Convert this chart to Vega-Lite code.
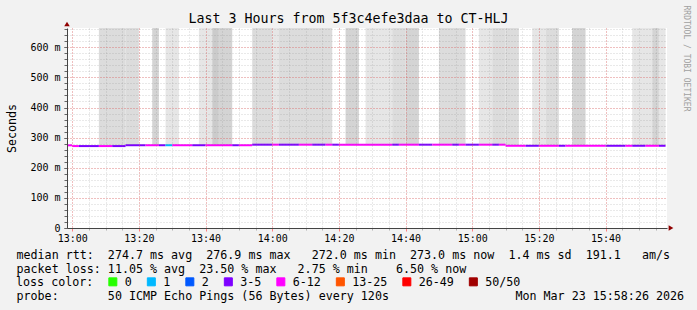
{
  "$schema": "https://vega.github.io/schema/vega-lite/v6.json",
  "width": 600,
  "height": 200,
  "autosize": {"type": "none"},
  "padding": {"left": 67, "top": 28, "right": 30, "bottom": 82},
  "background": "#f2f2f2",
  "title": {
    "text": "Last 3 Hours from 5f3c4efe3daa to CT-HLJ",
    "font": "DejaVu Sans Mono",
    "fontSize": 13.3,
    "fontWeight": "normal",
    "color": "#000000",
    "anchor": "middle",
    "frame": "group",
    "dx": -18.5,
    "dy": 35,
    "offset": 4,
    "baseline": "alphabetic"
  },
  "config": {
    "view": {"fill": "#ffffff", "stroke": null},
    "font": "DejaVu Sans Mono",
    "axis": {
      "labelFont": "DejaVu Sans Mono",
      "labelFontSize": 10,
      "labelColor": "#000000",
      "titleFont": "DejaVu Sans Mono",
      "titleFontSize": 11.68,
      "titleFontWeight": "normal",
      "titleColor": "#000000",
      "titleLimit": 1000
    }
  },
  "resolve": {"axis": {"x": "independent", "y": "independent"}},
  "layer": [
    {
      "data": {
        "values": [
          {"t0": "2026-03-23T13:08", "t1": "2026-03-23T13:16", "lo": 0.272, "hi": 0.7, "shade": "mid"},
          {"t0": "2026-03-23T13:16", "t1": "2026-03-23T13:20", "lo": 0.2748, "hi": 0.7, "shade": "mid"},
          {"t0": "2026-03-23T13:24", "t1": "2026-03-23T13:26", "lo": 0.2748, "hi": 0.7, "shade": "dark"},
          {"t0": "2026-03-23T13:28", "t1": "2026-03-23T13:32", "lo": 0.2748, "hi": 0.7, "shade": "light"},
          {"t0": "2026-03-23T13:38", "t1": "2026-03-23T13:42", "lo": 0.2748, "hi": 0.7, "shade": "light"},
          {"t0": "2026-03-23T13:42", "t1": "2026-03-23T13:44", "lo": 0.2748, "hi": 0.7, "shade": "darker"},
          {"t0": "2026-03-23T13:44", "t1": "2026-03-23T13:48", "lo": 0.2748, "hi": 0.7, "shade": "dark"},
          {"t0": "2026-03-23T13:54", "t1": "2026-03-23T14:00", "lo": 0.2766, "hi": 0.7, "shade": "mid"},
          {"t0": "2026-03-23T14:00", "t1": "2026-03-23T14:02", "lo": 0.2766, "hi": 0.7, "shade": "light"},
          {"t0": "2026-03-23T14:02", "t1": "2026-03-23T14:18", "lo": 0.2766, "hi": 0.7, "shade": "mid"},
          {"t0": "2026-03-23T14:22", "t1": "2026-03-23T14:26", "lo": 0.2766, "hi": 0.7, "shade": "dark"},
          {"t0": "2026-03-23T14:28", "t1": "2026-03-23T14:36", "lo": 0.2766, "hi": 0.7, "shade": "light"},
          {"t0": "2026-03-23T14:36", "t1": "2026-03-23T14:40", "lo": 0.2766, "hi": 0.7, "shade": "mid"},
          {"t0": "2026-03-23T14:40", "t1": "2026-03-23T14:44", "lo": 0.2766, "hi": 0.7, "shade": "dark"},
          {"t0": "2026-03-23T14:50", "t1": "2026-03-23T14:58", "lo": 0.2766, "hi": 0.7, "shade": "mid"},
          {"t0": "2026-03-23T15:02", "t1": "2026-03-23T15:06", "lo": 0.2766, "hi": 0.7, "shade": "light"},
          {"t0": "2026-03-23T15:06", "t1": "2026-03-23T15:10", "lo": 0.2766, "hi": 0.7, "shade": "mid"},
          {"t0": "2026-03-23T15:10", "t1": "2026-03-23T15:14", "lo": 0.273, "hi": 0.7, "shade": "mid"},
          {"t0": "2026-03-23T15:18", "t1": "2026-03-23T15:22", "lo": 0.273, "hi": 0.7, "shade": "light"},
          {"t0": "2026-03-23T15:22", "t1": "2026-03-23T15:26", "lo": 0.273, "hi": 0.7, "shade": "mid"},
          {"t0": "2026-03-23T15:30", "t1": "2026-03-23T15:34", "lo": 0.273, "hi": 0.7, "shade": "dark"},
          {"t0": "2026-03-23T15:48", "t1": "2026-03-23T15:54", "lo": 0.273, "hi": 0.7, "shade": "light"},
          {"t0": "2026-03-23T15:54", "t1": "2026-03-23T15:56", "lo": 0.273, "hi": 0.7, "shade": "dark"},
          {"t0": "2026-03-23T15:56", "t1": "2026-03-23T15:58", "lo": 0.273, "hi": 0.7, "shade": "light"}
        ]
      },
      "mark": {"type": "rect", "clip": true},
      "encoding": {
        "x": {
          "field": "t0", "type": "temporal",
          "scale": {"domain": [{"year": 2026, "month": 3, "date": 23, "hours": 12, "minutes": 58, "seconds": 26}, {"year": 2026, "month": 3, "date": 23, "hours": 15, "minutes": 58, "seconds": 26}]},
          "axis": {
            "orient": "bottom", "grid": true, "gridColor": "#808080", "gridOpacity": 0.35, "gridDash": [1, 2],
            "values": [
              {"year": 2026, "month": 3, "date": 23, "hours": 13, "minutes": 0},
              {"year": 2026, "month": 3, "date": 23, "hours": 13, "minutes": 5},
              {"year": 2026, "month": 3, "date": 23, "hours": 13, "minutes": 10},
              {"year": 2026, "month": 3, "date": 23, "hours": 13, "minutes": 15},
              {"year": 2026, "month": 3, "date": 23, "hours": 13, "minutes": 20},
              {"year": 2026, "month": 3, "date": 23, "hours": 13, "minutes": 25},
              {"year": 2026, "month": 3, "date": 23, "hours": 13, "minutes": 30},
              {"year": 2026, "month": 3, "date": 23, "hours": 13, "minutes": 35},
              {"year": 2026, "month": 3, "date": 23, "hours": 13, "minutes": 40},
              {"year": 2026, "month": 3, "date": 23, "hours": 13, "minutes": 45},
              {"year": 2026, "month": 3, "date": 23, "hours": 13, "minutes": 50},
              {"year": 2026, "month": 3, "date": 23, "hours": 13, "minutes": 55},
              {"year": 2026, "month": 3, "date": 23, "hours": 14, "minutes": 0},
              {"year": 2026, "month": 3, "date": 23, "hours": 14, "minutes": 5},
              {"year": 2026, "month": 3, "date": 23, "hours": 14, "minutes": 10},
              {"year": 2026, "month": 3, "date": 23, "hours": 14, "minutes": 15},
              {"year": 2026, "month": 3, "date": 23, "hours": 14, "minutes": 20},
              {"year": 2026, "month": 3, "date": 23, "hours": 14, "minutes": 25},
              {"year": 2026, "month": 3, "date": 23, "hours": 14, "minutes": 30},
              {"year": 2026, "month": 3, "date": 23, "hours": 14, "minutes": 35},
              {"year": 2026, "month": 3, "date": 23, "hours": 14, "minutes": 40},
              {"year": 2026, "month": 3, "date": 23, "hours": 14, "minutes": 45},
              {"year": 2026, "month": 3, "date": 23, "hours": 14, "minutes": 50},
              {"year": 2026, "month": 3, "date": 23, "hours": 14, "minutes": 55},
              {"year": 2026, "month": 3, "date": 23, "hours": 15, "minutes": 0},
              {"year": 2026, "month": 3, "date": 23, "hours": 15, "minutes": 5},
              {"year": 2026, "month": 3, "date": 23, "hours": 15, "minutes": 10},
              {"year": 2026, "month": 3, "date": 23, "hours": 15, "minutes": 15},
              {"year": 2026, "month": 3, "date": 23, "hours": 15, "minutes": 20},
              {"year": 2026, "month": 3, "date": 23, "hours": 15, "minutes": 25},
              {"year": 2026, "month": 3, "date": 23, "hours": 15, "minutes": 30},
              {"year": 2026, "month": 3, "date": 23, "hours": 15, "minutes": 35},
              {"year": 2026, "month": 3, "date": 23, "hours": 15, "minutes": 40},
              {"year": 2026, "month": 3, "date": 23, "hours": 15, "minutes": 45},
              {"year": 2026, "month": 3, "date": 23, "hours": 15, "minutes": 50},
              {"year": 2026, "month": 3, "date": 23, "hours": 15, "minutes": 55}
            ],
            "labels": false, "ticks": true, "tickSize": 2, "tickColor": "#b0b0b0", "domain": false, "zindex": 1,
            "title": "probe:\u00a0\u00a0\u00a0\u00a0\u00a0\u00a0\u00a050 ICMP Echo Pings (56 Bytes) every 120s\u00a0\u00a0\u00a0\u00a0\u00a0\u00a0\u00a0\u00a0\u00a0\u00a0\u00a0\u00a0\u00a0\u00a0\u00a0\u00a0\u00a0\u00a0Mon Mar 23 15:58:26 2026",
            "titleX": -51, "titleY": 62, "titleAlign": "left", "titleBaseline": "top", "titleAngle": 0
          }
        },
        "x2": {"field": "t1"},
        "y": {
          "field": "lo", "type": "quantitative",
          "scale": {"domain": [0, 0.664], "nice": false, "zero": false},
          "axis": {
            "orient": "left", "grid": true, "gridColor": "#808080", "gridOpacity": 0.35, "gridDash": [1, 2],
            "values": [0, 0.02, 0.04, 0.06, 0.08, 0.1, 0.12, 0.14, 0.16, 0.18, 0.2, 0.22, 0.24, 0.26, 0.28, 0.3, 0.32, 0.34, 0.36, 0.38, 0.4, 0.42, 0.44, 0.46, 0.48, 0.5, 0.52, 0.54, 0.56, 0.58, 0.6, 0.62, 0.64, 0.66],
            "labels": false, "ticks": true, "tickSize": 3, "tickColor": "#666666", "domain": false, "zindex": 1,
            "title": "Seconds", "titleX": -52, "titleY": 100, "titleAngle": 270, "titleAlign": "center", "titleBaseline": "alphabetic"
          }
        },
        "y2": {"field": "hi"},
        "fill": {
          "field": "shade", "type": "nominal",
          "scale": {"domain": ["light", "mid", "dark", "darker"], "range": ["#e6e6e6", "#dcdcdc", "#d4d4d4", "#cbcbcb"]},
          "legend": null
        }
      }
    },
    {
      "data": {
        "values": [
          {"t0": "2026-03-23T12:58:26", "t1": "2026-03-23T13:00", "rtt": 0.2745, "loss": "6-12"},
          {"t0": "2026-03-23T13:00", "t1": "2026-03-23T13:02", "rtt": 0.272, "loss": "6-12"},
          {"t0": "2026-03-23T13:02", "t1": "2026-03-23T13:08", "rtt": 0.272, "loss": "3-5"},
          {"t0": "2026-03-23T13:08", "t1": "2026-03-23T13:12", "rtt": 0.272, "loss": "6-12"},
          {"t0": "2026-03-23T13:12", "t1": "2026-03-23T13:16", "rtt": 0.272, "loss": "3-5"},
          {"t0": "2026-03-23T13:16", "t1": "2026-03-23T13:22", "rtt": 0.2748, "loss": "3-5"},
          {"t0": "2026-03-23T13:22", "t1": "2026-03-23T13:26", "rtt": 0.2748, "loss": "6-12"},
          {"t0": "2026-03-23T13:26", "t1": "2026-03-23T13:28", "rtt": 0.2748, "loss": "3-5"},
          {"t0": "2026-03-23T13:28", "t1": "2026-03-23T13:30", "rtt": 0.2748, "loss": "1"},
          {"t0": "2026-03-23T13:30", "t1": "2026-03-23T13:36", "rtt": 0.2748, "loss": "6-12"},
          {"t0": "2026-03-23T13:36", "t1": "2026-03-23T13:40", "rtt": 0.2748, "loss": "3-5"},
          {"t0": "2026-03-23T13:40", "t1": "2026-03-23T13:48", "rtt": 0.2748, "loss": "6-12"},
          {"t0": "2026-03-23T13:48", "t1": "2026-03-23T13:50", "rtt": 0.2748, "loss": "3-5"},
          {"t0": "2026-03-23T13:50", "t1": "2026-03-23T13:54", "rtt": 0.2748, "loss": "6-12"},
          {"t0": "2026-03-23T13:54", "t1": "2026-03-23T14:00", "rtt": 0.2766, "loss": "3-5"},
          {"t0": "2026-03-23T14:00", "t1": "2026-03-23T14:02", "rtt": 0.2766, "loss": "6-12"},
          {"t0": "2026-03-23T14:02", "t1": "2026-03-23T14:08", "rtt": 0.2766, "loss": "3-5"},
          {"t0": "2026-03-23T14:08", "t1": "2026-03-23T14:12", "rtt": 0.2766, "loss": "6-12"},
          {"t0": "2026-03-23T14:12", "t1": "2026-03-23T14:16", "rtt": 0.2766, "loss": "3-5"},
          {"t0": "2026-03-23T14:16", "t1": "2026-03-23T14:18", "rtt": 0.2766, "loss": "6-12"},
          {"t0": "2026-03-23T14:18", "t1": "2026-03-23T14:20", "rtt": 0.2766, "loss": "3-5"},
          {"t0": "2026-03-23T14:20", "t1": "2026-03-23T14:36", "rtt": 0.2766, "loss": "6-12"},
          {"t0": "2026-03-23T14:36", "t1": "2026-03-23T14:38", "rtt": 0.2766, "loss": "3-5"},
          {"t0": "2026-03-23T14:38", "t1": "2026-03-23T14:44", "rtt": 0.2766, "loss": "6-12"},
          {"t0": "2026-03-23T14:44", "t1": "2026-03-23T14:48", "rtt": 0.2766, "loss": "3-5"},
          {"t0": "2026-03-23T14:48", "t1": "2026-03-23T14:54", "rtt": 0.2766, "loss": "6-12"},
          {"t0": "2026-03-23T14:54", "t1": "2026-03-23T14:56", "rtt": 0.2766, "loss": "3-5"},
          {"t0": "2026-03-23T14:56", "t1": "2026-03-23T14:58", "rtt": 0.2766, "loss": "6-12"},
          {"t0": "2026-03-23T14:58", "t1": "2026-03-23T15:02", "rtt": 0.2766, "loss": "3-5"},
          {"t0": "2026-03-23T15:02", "t1": "2026-03-23T15:06", "rtt": 0.2766, "loss": "6-12"},
          {"t0": "2026-03-23T15:06", "t1": "2026-03-23T15:08", "rtt": 0.2766, "loss": "3-5"},
          {"t0": "2026-03-23T15:08", "t1": "2026-03-23T15:10", "rtt": 0.2766, "loss": "6-12"},
          {"t0": "2026-03-23T15:10", "t1": "2026-03-23T15:16", "rtt": 0.273, "loss": "6-12"},
          {"t0": "2026-03-23T15:16", "t1": "2026-03-23T15:20", "rtt": 0.273, "loss": "3-5"},
          {"t0": "2026-03-23T15:20", "t1": "2026-03-23T15:26", "rtt": 0.273, "loss": "6-12"},
          {"t0": "2026-03-23T15:26", "t1": "2026-03-23T15:28", "rtt": 0.273, "loss": "3-5"},
          {"t0": "2026-03-23T15:28", "t1": "2026-03-23T15:40", "rtt": 0.273, "loss": "6-12"},
          {"t0": "2026-03-23T15:40", "t1": "2026-03-23T15:46", "rtt": 0.273, "loss": "3-5"},
          {"t0": "2026-03-23T15:46", "t1": "2026-03-23T15:48", "rtt": 0.273, "loss": "6-12"},
          {"t0": "2026-03-23T15:48", "t1": "2026-03-23T15:52", "rtt": 0.273, "loss": "3-5"},
          {"t0": "2026-03-23T15:52", "t1": "2026-03-23T15:56", "rtt": 0.273, "loss": "6-12"},
          {"t0": "2026-03-23T15:56", "t1": "2026-03-23T15:58", "rtt": 0.273, "loss": "3-5"}
        ]
      },
      "mark": {"type": "rule", "strokeWidth": 2, "clip": true},
      "encoding": {
        "x": {
          "field": "t0", "type": "temporal",
          "scale": {"domain": [{"year": 2026, "month": 3, "date": 23, "hours": 12, "minutes": 58, "seconds": 26}, {"year": 2026, "month": 3, "date": 23, "hours": 15, "minutes": 58, "seconds": 26}]},
          "axis": {
            "orient": "bottom", "grid": true, "gridColor": "#ff5f5f", "gridOpacity": 0.6, "gridDash": [1, 2],
            "values": [
              {"year": 2026, "month": 3, "date": 23, "hours": 13, "minutes": 0},
              {"year": 2026, "month": 3, "date": 23, "hours": 13, "minutes": 20},
              {"year": 2026, "month": 3, "date": 23, "hours": 13, "minutes": 40},
              {"year": 2026, "month": 3, "date": 23, "hours": 14, "minutes": 0},
              {"year": 2026, "month": 3, "date": 23, "hours": 14, "minutes": 20},
              {"year": 2026, "month": 3, "date": 23, "hours": 14, "minutes": 40},
              {"year": 2026, "month": 3, "date": 23, "hours": 15, "minutes": 0},
              {"year": 2026, "month": 3, "date": 23, "hours": 15, "minutes": 20},
              {"year": 2026, "month": 3, "date": 23, "hours": 15, "minutes": 40}
            ],
            "format": "%H:%M",
            "labelFlush": false, "labelOverlap": false, "labelPadding": 2, "labelBaseline": "top",
            "ticks": true, "tickSize": 3, "tickColor": "#ff7f7f",
            "domain": true, "domainColor": "#444444", "domainWidth": 1, "zindex": 1,
            "title": [
              "median rtt:\u00a0\u00a0274.7 ms avg\u00a0\u00a0276.9 ms max\u00a0\u00a0\u00a0272.0 ms min\u00a0\u00a0273.0 ms now\u00a0\u00a01.4 ms sd\u00a0\u00a0191.1\u00a0\u00a0\u00a0am/s",
              "packet loss: 11.05 % avg\u00a0\u00a023.50 % max\u00a0\u00a0\u00a02.75 % min\u00a0\u00a0\u00a0\u00a06.50 % now"
            ],
            "titleX": -51, "titleY": 21, "titleAlign": "left", "titleBaseline": "top", "titleLineHeight": 14, "titleAngle": 0
          }
        },
        "x2": {"field": "t1"},
        "y": {
          "field": "rtt", "type": "quantitative",
          "scale": {"domain": [0, 0.664], "nice": false, "zero": false},
          "axis": {
            "orient": "left", "grid": true, "gridColor": "#ff5f5f", "gridOpacity": 0.6, "gridDash": [1, 2],
            "values": [0, 0.1, 0.2, 0.3, 0.4, 0.5, 0.6],
            "labelExpr": "datum.value == 0 ? '0  ' : format(datum.value * 1000, '.0f') + ' m'",
            "labelPadding": 4, "labelOverlap": false, "labelFlush": false,
            "ticks": true, "tickSize": 3, "tickColor": "#666666",
            "domain": true, "domainColor": "#444444", "domainWidth": 1, "zindex": 1,
            "title": null
          }
        },
        "color": {
          "field": "loss", "type": "nominal",
          "scale": {
            "domain": ["0", "1", "2", "3-5", "6-12", "13-25", "26-49", "50/50"],
            "range": ["#26ff00", "#00b8ff", "#0059ff", "#7e00ff", "#ff00ff", "#ff5500", "#ff0000", "#a10000"]
          },
          "legend": {
            "orient": "none", "legendX": -51, "legendY": 248, "direction": "horizontal",
            "gridAlign": "none", "columns": 8,
            "title": "loss color:", "titleOrient": "left", "titleFont": "DejaVu Sans Mono", "titleFontSize": 11.68,
            "titleFontWeight": "normal", "titleColor": "#000000", "titlePadding": 13,
            "labelFont": "DejaVu Sans Mono", "labelFontSize": 11.68, "labelColor": "#000000", "labelOffset": 6,
            "columnPadding": 12.5, "symbolType": "square", "symbolSize": 64, "symbolStrokeWidth": 1,
            "symbolStrokeColor": "#000000", "symbolOpacity": 1, "padding": 0, "offset": 0,
            "encode": {
              "symbols": {
                "update": {
                  "fill": {"scale": "color", "field": "value"},
                  "stroke": {"value": "#000000"},
                  "fillOpacity": {"value": 1}
                }
              }
            }
          }
        }
      }
    },
    {
      "data": {"values": [{"t": "2026-03-23T12:58:26", "v": 0.664}]},
      "mark": {"type": "point", "shape": "triangle-up", "filled": true, "size": 30, "color": "#900000", "opacity": 1, "yOffset": -4},
      "encoding": {
        "x": {
          "field": "t", "type": "temporal",
          "scale": {"domain": [{"year": 2026, "month": 3, "date": 23, "hours": 12, "minutes": 58, "seconds": 26}, {"year": 2026, "month": 3, "date": 23, "hours": 15, "minutes": 58, "seconds": 26}]},
          "axis": null
        },
        "y": {
          "field": "v", "type": "quantitative",
          "scale": {"domain": [0, 0.664], "nice": false, "zero": false},
          "axis": {
            "orient": "right", "grid": false, "labels": false, "ticks": false, "domain": false,
            "title": "RRDTOOL / TOBI OETIKER", "titleFont": "DejaVu Sans Mono", "titleFontSize": 8,
            "titleColor": "#a0a0a0", "titleAngle": 90, "titleAlign": "left", "titleBaseline": "alphabetic",
            "titleX": 16.5, "titleY": -23
          }
        }
      }
    },
    {
      "data": {"values": [{"t": "2026-03-23T15:58:26", "v": 0}]},
      "mark": {"type": "point", "shape": "triangle-right", "filled": true, "size": 30, "color": "#900000", "opacity": 1, "xOffset": 4},
      "encoding": {
        "x": {
          "field": "t", "type": "temporal",
          "scale": {"domain": [{"year": 2026, "month": 3, "date": 23, "hours": 12, "minutes": 58, "seconds": 26}, {"year": 2026, "month": 3, "date": 23, "hours": 15, "minutes": 58, "seconds": 26}]},
          "axis": null
        },
        "y": {
          "field": "v", "type": "quantitative",
          "scale": {"domain": [0, 0.664], "nice": false, "zero": false},
          "axis": null
        }
      }
    }
  ]
}
